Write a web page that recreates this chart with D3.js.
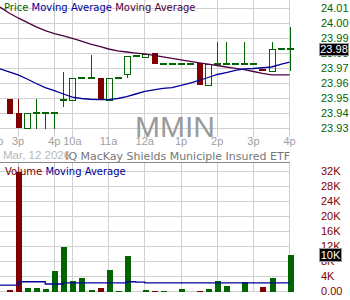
<!DOCTYPE html>
<html>
<head>
<meta charset="utf-8">
<script src="https://cdnjs.cloudflare.com/ajax/libs/d3/7.8.5/d3.min.js"></script>
<style>
body { margin: 0; background: #fff; }
text { font-family: "DejaVu Sans", sans-serif; }
</style>
</head>
<body>
<div id="chart"></div>
<script>
var w = 350,
	h = 300;

// 15 min slots: 0 = 2:45p (Mar 12) ... 5 = 4:00p, 6 = 9:45a ... 31 = 4:00p
var slots = d3.range(0, 32);
var opens  = [23.95, 23.94, 23.93, 23.94, 23.94, 23.94, 23.949, 23.949, 23.964, 23.964,
	23.964, 23.949, 23.964, 23.9658, 23.978, 23.978, 23.9805, 23.9733, 23.9733, 23.9733,
	23.9733, 23.974, 23.9593, 23.9731, 23.9731, 23.9731, 23.9731, 23.9731, 23.969, 23.9687,
	23.9831, 23.9831];
var highs  = [23.95, 23.95, 23.94, 23.95, 23.94, 23.94, 23.968, 23.964, 23.964, 23.9787,
	23.964, 23.964, 23.964, 23.978, 23.978, 23.980, 23.9805, 23.9733, 23.9733, 23.9733,
	23.9733, 23.974, 23.9731, 23.988, 23.988, 23.9731, 23.988, 23.9731, 23.969, 23.988,
	23.9831, 23.9975];
var lows   = [23.94, 23.93, 23.93, 23.93, 23.93, 23.93, 23.9442, 23.949, 23.964, 23.964,
	23.949, 23.949, 23.964, 23.964, 23.978, 23.978, 23.9733, 23.9733, 23.9733, 23.9733,
	23.9733, 23.9593, 23.9584, 23.9731, 23.9731, 23.9731, 23.9731, 23.9731, 23.9687, 23.9687,
	23.9831, 23.9682];
var closes = [23.94, 23.93, 23.94, 23.94, 23.94, 23.94, 23.949, 23.964, 23.964, 23.964,
	23.949, 23.964, 23.964, 23.978, 23.978, 23.980, 23.9733, 23.9733, 23.9733, 23.9733,
	23.9733, 23.9593, 23.9731, 23.9731, 23.9731, 23.9731, 23.9731, 23.9731, 23.9687, 23.9831,
	23.9831, 23.9831];
// volume in thousands, red = down bar
var volumes = [0.3, 32, 1.0, 1.0, 0.65, 5.5, 11.9, 2.85, 3.7, 0.45,
	1.0, 5.8, 0.2, 9.5, 0, 0.4, 0.2, 0.2, 0, 0.6,
	0, 0.2, 0.7, 2.85, 1.6, 0, 2.6, 0, 1.25, 3.7,
	0, 9.6];
var volDown = [1, 1, 0, 0, 0, 0, 0, 0, 0, 0, 1, 0, 0, 0, 0, 0, 1, 0, 0, 0,
	0, 1, 0, 0, 0, 0, 0, 0, 1, 0, 0, 0];

// moving averages start one slot earlier (2:30p)
var maSlots = d3.range(-1, 32);
var maShort = [23.9698, 23.9677, 23.9657, 23.9630, 23.9600, 23.9573, 23.9553, 23.9530, 23.9509, 23.9500,
	23.9495, 23.9493, 23.9493, 23.9500, 23.9513, 23.9530, 23.9547, 23.9557, 23.9567, 23.9573,
	23.9587, 23.9603, 23.9620, 23.9640, 23.9660, 23.9673, 23.9687, 23.9697, 23.9700, 23.9705,
	23.9710, 23.9727, 23.9742];
var maLong = [24.0109, 24.0070, 24.0037, 24.0007, 23.9977, 23.9953, 23.9933, 23.9917, 23.9901, 23.9883,
	23.9863, 23.9847, 23.9830, 23.9817, 23.9810, 23.9803, 23.9797, 23.9787, 23.9777, 23.9767,
	23.9757, 23.9748, 23.9738, 23.9729, 23.9720, 23.9710, 23.9701, 23.9693, 23.9680, 23.9667,
	23.9658, 23.9658, 23.9658];
var volMa = [1.7, 1.7, 2.6, 2.6, 2.6, 2.0, 2.0, 2.3, 2.3, 2.3,
	2.3, 2.3, 2.3, 2.3, 2.6, 2.5, 2.3, 2.3, 2.3, 2.3,
	2.3, 2.3, 2.3, 2.3, 2.3, 2.3, 2.3, 2.3, 2.3, 2.3,
	2.3, 2.3, 2.3];

var priceTicks = [24.01, 24.00, 23.99, 23.98, 23.97, 23.96, 23.95, 23.94, 23.93];
var volTicks = [32, 28, 24, 20, 16, 12, 8, 4, 0];
var volTickLabels = ["32K", "28K", "24K", "20K", "16K", "12K", "8K", "4K", "0.00"];
var timeTicks = [1, 5, 7, 11, 15, 19, 23, 27, 31];
var timeLabels = ["3p", "4p", "10a", "11a", "12a", "1p", "2p", "3p", "4p"];
var lastPrice = 23.98, lastVol = 9.6, lastVolLabel = "10K";

var green = "#006400", red = "#800000", blue = "#000099", purple = "#4d0040", grid = "#d0d0d0";

var x = d3.scaleLinear().domain([-1, 31]).range([0, 289.6]);
var y = d3.scaleLinear().domain([23.93, 24.01]).range([128.5, 8.5]);
var yv = d3.scaleLinear().domain([0, 32]).range([291.5, 171.5]);

function px(i) { return Math.round(x(i)); }

var svg = d3.select("#chart")
	.append("svg")
	.attr("width", w)
	.attr("height", h)
	.style("display", "block");

svg.append("rect").attr("width", w).attr("height", h).attr("fill", "#fff");

var g = svg.append("g").attr("shape-rendering", "crispEdges");

// grid price panel
g.selectAll(".hp").data(priceTicks).enter().append("line")
	.attr("x1", 0).attr("x2", 290)
	.attr("y1", function(d) { return Math.floor(y(d)) + 0.5; })
	.attr("y2", function(d) { return Math.floor(y(d)) + 0.5; })
	.attr("stroke", grid);
g.selectAll(".vp").data(timeTicks).enter().append("line")
	.attr("x1", function(d) { return Math.floor(x(d)) + 0.5; })
	.attr("x2", function(d) { return Math.floor(x(d)) + 0.5; })
	.attr("y1", 0).attr("y2", 137)
	.attr("stroke", grid);

// grid volume panel
g.selectAll(".hv").data(volTicks).enter().append("line")
	.attr("x1", 0).attr("x2", 290)
	.attr("y1", function(d) { return Math.floor(yv(d)) + 0.5; })
	.attr("y2", function(d) { return Math.floor(yv(d)) + 0.5; })
	.attr("stroke", grid);
g.selectAll(".vv").data(timeTicks).enter().append("line")
	.attr("x1", function(d) { return Math.floor(x(d)) + 0.5; })
	.attr("x2", function(d) { return Math.floor(x(d)) + 0.5; })
	.attr("y1", 162).attr("y2", 292)
	.attr("stroke", grid);

// watermark
svg.append("text")
	.attr("x", 175).attr("y", 137)
	.attr("text-anchor", "middle")
	.style("font-family", "'Liberation Sans', Arial, sans-serif")
	.attr("font-size", 30)
	.attr("fill", "#9a9a9a")
	.text("MMIN");

// x labels
svg.selectAll(".xl").data(timeTicks).enter().append("text")
	.attr("x", function(d) { return x(d); })
	.attr("y", 145)
	.attr("text-anchor", "middle")
	.style("font-family", "'Liberation Sans', Arial, sans-serif")
	.attr("font-size", 11)
	.attr("fill", "#a0a0a0")
	.text(function(d, i) { return timeLabels[i]; });
svg.append("text")
	.attr("x", 3.5).attr("y", 145)
	.attr("text-anchor", "end")
	.style("font-family", "'Liberation Sans', Arial, sans-serif")
	.attr("font-size", 11)
	.attr("fill", "#a0a0a0")
	.text("2p");

svg.append("text")
	.attr("x", 3).attr("y", 158.5)
	.style("font-family", "'Liberation Sans', Arial, sans-serif")
	.attr("font-size", 11.5)
	.attr("fill", "#b8b8b8")
	.text("Mar, 12 2026");
svg.append("text")
	.attr("x", 290).attr("y", 159.5)
	.attr("text-anchor", "end")
	.attr("font-size", 11)
	.attr("fill", "#777")
	.text("IQ MacKay Shields Municiple Insured ETF");
g.append("line")
	.attr("x1", 0).attr("x2", 290)
	.attr("y1", 162.5).attr("y2", 162.5)
	.attr("stroke", "#888");

// moving averages
var line = d3.line()
	.x(function(d) { return x(d[0]); })
	.y(function(d) { return y(d[1]); });
svg.append("path")
	.attr("d", line(maSlots.map(function(s, i) { return [s, maLong[i]]; })))
	.attr("fill", "none").attr("stroke", purple).attr("stroke-width", 1.3);
svg.append("path")
	.attr("d", line(maSlots.map(function(s, i) { return [s, maShort[i]]; })))
	.attr("fill", "none").attr("stroke", blue).attr("stroke-width", 1.3);

// candles
var candle = g.selectAll(".candle").data(slots).enter().append("g");
candle.each(function(i) {
	var c = d3.select(this),
		cx = px(i),
		o = opens[i], cl = closes[i],
		top = y(Math.max(o, cl)), bot = y(Math.min(o, cl)),
		col;
	if (Math.abs(o - cl) < 0.0005) {
		col = o > cl ? red : green;
		c.append("line")
			.attr("x1", cx + 0.5).attr("x2", cx + 0.5)
			.attr("y1", y(highs[i])).attr("y2", y(lows[i]))
			.attr("stroke", col);
		c.append("rect")
			.attr("x", cx - 3).attr("width", 7)
			.attr("y", Math.round(y(cl)) - 1).attr("height", 1.5)
			.attr("fill", col);
		return;
	}
	col = cl > o ? green : red;
	c.append("line")
		.attr("x1", cx + 0.5).attr("x2", cx + 0.5)
		.attr("y1", y(highs[i])).attr("y2", top)
		.attr("stroke", col);
	c.append("line")
		.attr("x1", cx + 0.5).attr("x2", cx + 0.5)
		.attr("y1", bot).attr("y2", y(lows[i]))
		.attr("stroke", col);
	if (cl > o) {
		c.append("rect")
			.attr("x", cx - 2.5).attr("width", 6)
			.attr("y", Math.round(top) + 0.5).attr("height", Math.max(1, Math.round(bot - top)))
			.attr("fill", "none").attr("stroke", col);
	} else {
		c.append("rect")
			.attr("x", cx - 2.5).attr("width", 6)
			.attr("y", Math.round(top)).attr("height", Math.max(1, Math.round(bot - top)))
			.attr("fill", col);
	}
});

// volume bars
g.selectAll(".vol").data(slots.filter(function(i) { return volumes[i] > 0; }))
	.enter().append("rect")
	.attr("x", function(i) { return px(i) - 2.5; })
	.attr("width", 6)
	.attr("y", function(i) { return Math.round(yv(volumes[i])); })
	.attr("height", function(i) { return Math.max(1, 292 - Math.round(yv(volumes[i]))); })
	.attr("fill", function(i) { return volDown[i] ? red : green; });

var vline = d3.line()
	.x(function(d) { return x(d[0]); })
	.y(function(d) { return yv(d[1]); })
	.curve(d3.curveStepAfter);
svg.append("path")
	.attr("d", vline(maSlots.map(function(s, i) { return [s, volMa[i]]; })))
	.attr("fill", "none").attr("stroke", blue).attr("stroke-width", 1.3);

// legends
var lg = svg.append("text").attr("x", 4).attr("y", 10.5).attr("font-size", 10);
lg.append("tspan").attr("fill", green).text("Price ");
lg.append("tspan").attr("fill", blue).text("Moving Average ");
lg.append("tspan").attr("fill", purple).text("Moving Average");

var vl = svg.append("text").attr("x", 5).attr("y", 174.5).attr("font-size", 10);
vl.append("tspan").attr("fill", red).text("Volume ");
vl.append("tspan").attr("fill", blue).text("Moving Average");

// right axes
svg.selectAll(".pl").data(priceTicks).enter().append("text")
	.attr("x", 321).attr("y", function(d) { return y(d); })
	.attr("dy", "0.36em")
	.style("font-family", "'Liberation Sans', Arial, sans-serif")
	.attr("font-size", 11)
	.attr("fill", green)
	.text(function(d) { return d.toFixed(2); });
svg.selectAll(".vlb").data(volTicks).enter().append("text")
	.attr("x", 321).attr("y", function(d) { return yv(d); })
	.attr("dy", "0.36em")
	.style("font-family", "'Liberation Sans', Arial, sans-serif")
	.attr("font-size", 11)
	.attr("fill", red)
	.text(function(d, i) { return volTickLabels[i]; });

// last value boxes
svg.append("rect")
	.attr("x", 319.5).attr("y", Math.round(y(lastPrice)) - 10.5)
	.attr("width", 29).attr("height", 12)
	.attr("fill", "#000").attr("stroke", "#999");
svg.append("text")
	.attr("x", 334).attr("y", y(lastPrice) - 4.5)
	.attr("dy", "0.36em")
	.attr("text-anchor", "middle")
	.style("font-family", "'Liberation Sans', Arial, sans-serif")
	.attr("font-size", 11)
	.attr("fill", "#fff")
	.text(lastPrice.toFixed(2));
svg.append("rect")
	.attr("x", 319.5).attr("y", Math.round(yv(lastVol)) - 6.5)
	.attr("width", 22).attr("height", 13)
	.attr("fill", "#000").attr("stroke", "#999");
svg.append("text")
	.attr("x", 330.5).attr("y", yv(lastVol))
	.attr("dy", "0.36em")
	.attr("text-anchor", "middle")
	.style("font-family", "'Liberation Sans', Arial, sans-serif")
	.attr("font-size", 11)
	.attr("fill", "#fff")
	.text(lastVolLabel);
</script>
</body>
</html>
